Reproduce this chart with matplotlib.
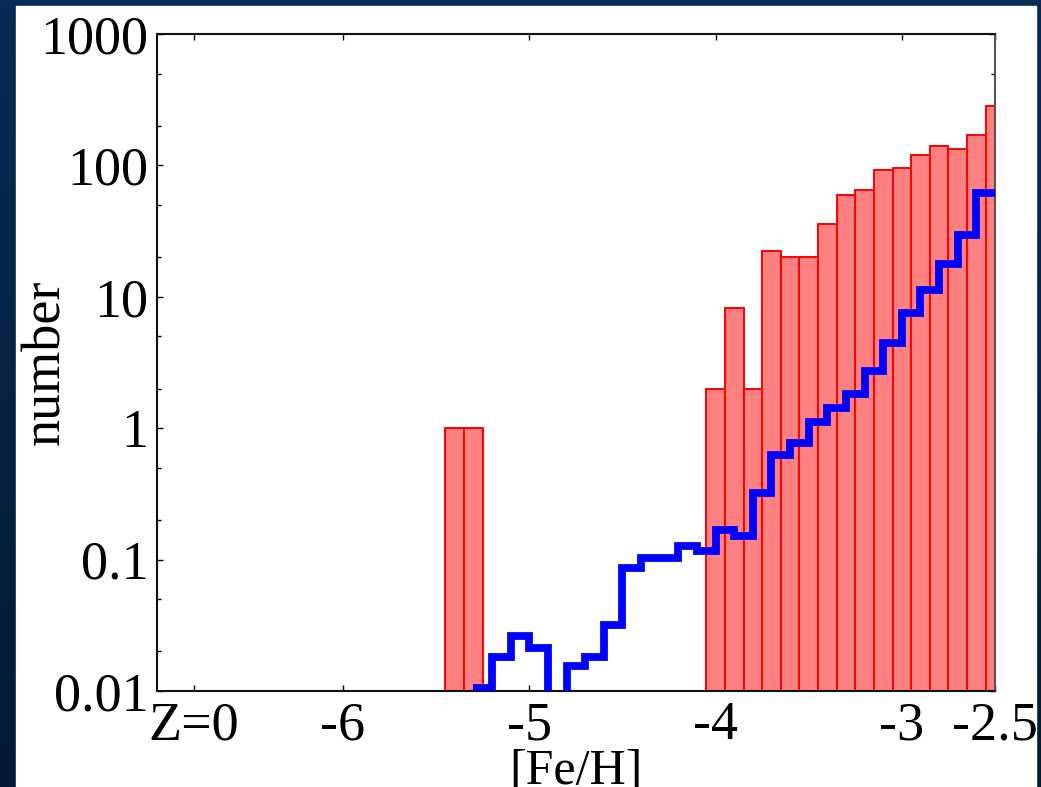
import numpy as np
import matplotlib
matplotlib.use("Agg")
from matplotlib import pyplot as plt

# observed stars per 0.1 dex bin (bin centres)
feh_obs = [-5.4, -5.3, -4.0, -3.9, -3.8, -3.7, -3.6, -3.5, -3.4, -3.3,
           -3.2, -3.1, -3.0, -2.9, -2.8, -2.7, -2.6, -2.5]
n_obs = [1, 1, 2, 8.2, 2, 22.4, 20, 20, 35.6, 59.6,
         65, 91.8, 95, 121, 141, 133, 169, 285]

# model distribution (bin edges, one value per bin; 0 = empty bin)
feh_edges = [-5.3, -5.2, -5.1, -5.0, -4.9, -4.8, -4.7, -4.6, -4.5, -4.4,
             -4.3, -4.2, -4.1, -4.0, -3.9, -3.8, -3.7, -3.6, -3.5, -3.4,
             -3.3, -3.2, -3.1, -3.0, -2.9, -2.8, -2.7, -2.6, -2.5]
n_model = [0.0106, 0.0182, 0.0262, 0.0213, 0, 0.0155, 0.018, 0.0319, 0.0857, 0.102,
           0.102, 0.127, 0.116, 0.168, 0.150, 0.321, 0.627, 0.769, 1.12, 1.42,
           1.83, 2.73, 4.45, 7.53, 11.3, 17.9, 29.7, 61.8]

xticks = [-6.8, -6, -5, -4, -3, -2.5]
xticklabels = ["Z=0", "-6", "-5", "-4", "-3", "-2.5"]
yticks = [0.01, 0.1, 1, 10, 100, 1000]
yticklabels = ["0.01", "0.1", "1", "10", "100", "1000"]

plt.rcParams["font.family"] = ["Liberation Serif", "DejaVu Serif"]
FS = 39

W, H = 1041, 787
fig = plt.figure(figsize=(W / 100, H / 100), dpi=100)

# slide background: dark blue gradient with a white panel
bg = fig.add_axes([0, 0, 1, 1], zorder=-10)
grad = np.linspace(0, 1, 256).reshape(-1, 1)
top_c = np.array([0x07, 0x2c, 0x55]) / 255
bot_c = np.array([0x03, 0x1b, 0x35]) / 255
img = top_c + grad[..., None] * (bot_c - top_c)
bg.imshow(img, aspect="auto", extent=[0, 1, 0, 1], origin="upper")
bg.add_patch(plt.Rectangle((16 / W, 0), (1036 - 16) / W, (H - 6) / H,
                           color="white", transform=bg.transAxes))
bg.set_xlim(0, 1)
bg.set_ylim(0, 1)
bg.axis("off")

ax = fig.add_axes([156.7 / W, (H - 691) / H, (995 - 156.7) / W, (691 - 34) / H])
ax.set_facecolor("white")

ax.bar(feh_obs, n_obs, width=0.1, bottom=1e-4, color="#ff8080",
       edgecolor="red", linewidth=1.4, zorder=2)

vals = np.array(n_model, dtype=float)
vals = np.where(vals > 0, vals, 1e-5)
st = ax.stairs(vals, feh_edges, baseline=None, color="#0000ff", linewidth=5.6, zorder=3)
st.set_joinstyle("miter")

ax.set_yscale("log")
ax.set_xlim(-7.0, -2.5)
ax.set_ylim(0.01, 1000)

ax.set_xticks(xticks)
ax.set_xticklabels(xticklabels, fontsize=FS)
ax.set_yticks(yticks)
ax.set_yticklabels(yticklabels, fontsize=FS)
ax.yaxis.set_minor_locator(matplotlib.ticker.LogLocator(base=10, subs=(2, 5)))
ax.yaxis.set_minor_formatter(matplotlib.ticker.NullFormatter())
ax.tick_params(which="both", direction="in", top=True, right=True, color="black")
ax.tick_params(which="major", length=4.5, width=1.0)
ax.tick_params(which="minor", length=3, width=1.0)
ax.tick_params(axis="x", pad=7)
ax.tick_params(axis="y", pad=6)

for s in ax.spines.values():
    s.set_linewidth(1.5)
    s.set_color("#111111")
ax.spines["right"].set_color("#555555")

ax.set_xlabel("[Fe/H]", fontsize=36)
ax.xaxis.set_label_coords(0.5, -0.088)
ax.set_ylabel("number", fontsize=FS, va="center")
ax.yaxis.set_label_coords(-0.132, 0.5)

fig.savefig("out.png", dpi=100)
